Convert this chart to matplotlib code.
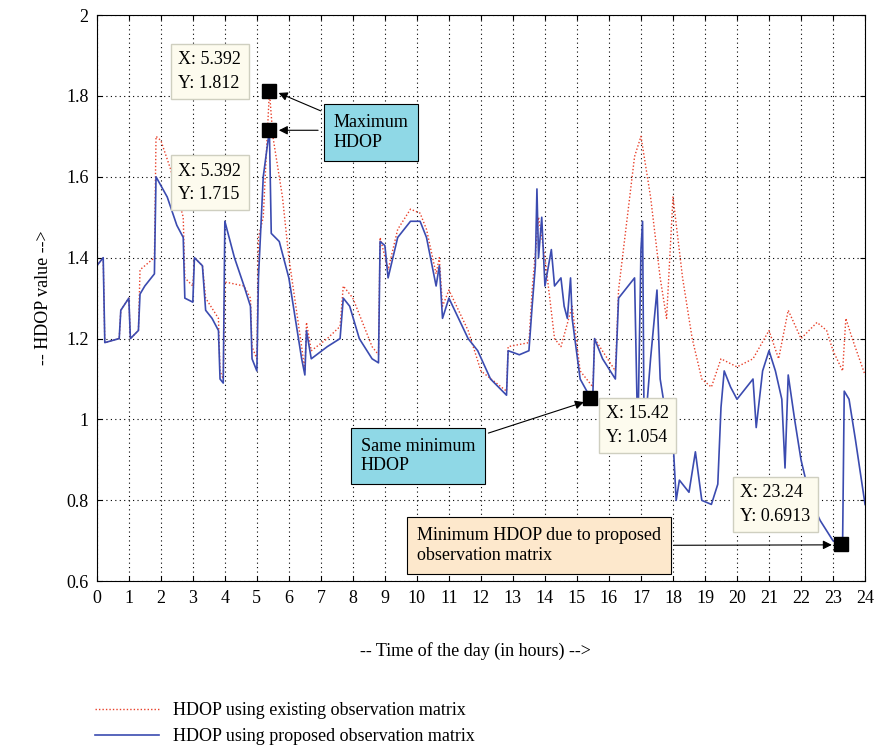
import matplotlib.pyplot as plt
from matplotlib.lines import Line2D

plt.rcParams["font.family"] = ["Liberation Serif", "DejaVu Serif"]
plt.rcParams["font.size"] = 13

# proposed observation matrix (blue)
prop_x = [0, 0.2, 0.25, 0.7, 0.75, 1.0, 1.05, 1.3, 1.35, 1.5, 1.8, 1.85, 2.2, 2.5, 2.7, 2.75, 3.0, 3.05,
          3.3, 3.4, 3.6, 3.8, 3.85, 3.95, 4.0, 4.3, 4.6, 4.8, 4.85, 5.0, 5.05, 5.2, 5.392, 5.45, 5.7, 6.0,
          6.2, 6.4, 6.5, 6.55, 6.7, 7.2, 7.6, 7.7, 7.9, 8.2, 8.6, 8.8, 8.85, 9.0, 9.1, 9.4, 9.8, 10.1,
          10.3, 10.6, 10.7, 10.8, 11.0, 11.3, 11.6, 11.9, 12.3, 12.8, 12.85, 13.2, 13.5, 13.6, 13.7, 13.75,
          13.8, 13.9, 14.0, 14.2, 14.3, 14.5, 14.6, 14.7, 14.8, 14.85, 15.1, 15.42, 15.5, 15.55, 15.8, 16.2,
          16.3, 16.8, 16.9, 17.0, 17.05, 17.1, 17.3, 17.5, 17.6, 17.8, 18.0, 18.1, 18.2, 18.5, 18.7, 18.9,
          19.2, 19.4, 19.5, 19.6, 19.8, 20.0, 20.2, 20.5, 20.6, 20.8, 21.0, 21.2, 21.4, 21.5, 21.6, 21.8,
          22.0, 22.3, 22.6, 23.0, 23.24, 23.3, 23.35, 23.5, 23.7, 24.0]
prop_y = [1.38, 1.40, 1.19, 1.20, 1.27, 1.30, 1.20, 1.22, 1.31, 1.33, 1.36, 1.60, 1.55, 1.48, 1.45, 1.30, 1.29, 1.40,
          1.38, 1.27, 1.25, 1.22, 1.10, 1.09, 1.49, 1.40, 1.33, 1.28, 1.15, 1.12, 1.35, 1.60, 1.715, 1.46, 1.44, 1.35,
          1.25, 1.15, 1.11, 1.22, 1.15, 1.18, 1.20, 1.30, 1.28, 1.20, 1.15, 1.14, 1.44, 1.43, 1.35, 1.45, 1.49, 1.49,
          1.45, 1.33, 1.38, 1.25, 1.30, 1.25, 1.20, 1.17, 1.10, 1.06, 1.17, 1.16, 1.17, 1.28, 1.38, 1.57,
          1.40, 1.50, 1.33, 1.42, 1.33, 1.35, 1.28, 1.25, 1.35, 1.25, 1.10, 1.054, 1.07, 1.20, 1.15, 1.10,
          1.30, 1.35, 0.95, 1.42, 1.49, 0.95, 1.15, 1.32, 1.10, 1.00, 0.95, 0.80, 0.85, 0.82, 0.92, 0.80,
          0.79, 0.84, 1.03, 1.12, 1.08, 1.05, 1.07, 1.10, 0.98, 1.12, 1.17, 1.12, 1.05, 0.88, 1.11, 1.00,
          0.90, 0.80, 0.75, 0.70, 0.6913, 0.70, 1.07, 1.05, 0.95, 0.79]

# existing observation matrix (red)
exist_x = [0, 0.2, 0.25, 0.7, 0.75, 1.0, 1.05, 1.3, 1.35, 1.5, 1.8, 1.85, 2.0, 2.3, 2.7, 2.75, 3.0, 3.05,
           3.3, 3.4, 3.8, 3.85, 3.95, 4.0, 4.6, 4.8, 4.85, 5.0, 5.05, 5.2, 5.392, 5.5, 5.8, 6.0, 6.4, 6.5,
           6.55, 6.7, 7.2, 7.6, 7.7, 8.0, 8.6, 8.8, 8.85, 9.1, 9.4, 9.8, 10.1, 10.3, 10.6, 10.7, 10.8, 11.0,
           11.6, 12.0, 12.8, 12.85, 13.5, 13.6, 13.8, 14.0, 14.3, 14.5, 14.85, 15.1, 15.5, 15.55, 16.2, 16.3,
           16.8, 17.0, 17.3, 17.6, 17.8, 18.0, 18.3, 18.6, 18.9, 19.2, 19.5, 20.0, 20.5, 21.0, 21.3, 21.6,
           22.0, 22.5, 22.8, 23.0, 23.3, 23.4, 23.6, 24.0]
exist_y = [1.38, 1.40, 1.19, 1.20, 1.27, 1.30, 1.20, 1.22, 1.37, 1.38, 1.40, 1.70, 1.69, 1.62, 1.50, 1.35, 1.33, 1.40,
           1.38, 1.30, 1.25, 1.12, 1.10, 1.34, 1.33, 1.30, 1.18, 1.15, 1.45, 1.50, 1.812, 1.70, 1.55, 1.40, 1.18, 1.12,
           1.24, 1.17, 1.20, 1.23, 1.33, 1.30, 1.18, 1.16, 1.45, 1.37, 1.47, 1.52, 1.51, 1.47, 1.36, 1.40, 1.28, 1.32,
           1.22, 1.12, 1.07, 1.18, 1.19, 1.32, 1.50, 1.40, 1.20, 1.18, 1.28, 1.12, 1.08, 1.20, 1.12, 1.32,
           1.65, 1.70, 1.55, 1.35, 1.25, 1.55, 1.35, 1.20, 1.10, 1.08, 1.15, 1.13, 1.15, 1.22, 1.15, 1.27,
           1.20, 1.24, 1.22, 1.17, 1.12, 1.25, 1.20, 1.11]

marks = [(5.392, 1.812), (5.392, 1.715), (15.42, 1.054), (23.24, 0.6913)]

fig = plt.figure(figsize=(8.8, 7.5), dpi=100)
ax = fig.add_axes([0.11, 0.225, 0.873, 0.755])

ax.plot(exist_x, exist_y, color="#e8402a", linestyle=(0, (1, 1.5)), linewidth=1.0)
ax.plot(prop_x, prop_y, color="#3b4bb0", linewidth=1.2)
for mx, my in marks:
    ax.plot(mx, my, marker="s", color="black", markersize=10, zorder=5)

ax.set_xlim(0, 24)
ax.set_ylim(0.6, 2)
ax.set_xticks(range(25))
ax.set_yticks([0.6, 0.8, 1, 1.2, 1.4, 1.6, 1.8, 2])
ax.set_yticklabels(["0.6", "0.8", "1", "1.2", "1.4", "1.6", "1.8", "2"])
ax.tick_params(direction="in", top=True, right=True, pad=6)
ax.grid(True, linestyle=(0, (1, 3)), color="black", linewidth=0.8)
ax.set_ylabel("-- HDOP value -->", labelpad=10)
fig.text(0.54, 0.125, "-- Time of the day (in hours) -->", ha="center", fontsize=13)

ybox = dict(boxstyle="square,pad=0.4", fc="#fdfbee", ec="#cfcfc0")
ax.text(2.55, 1.86, "X: 5.392\nY: 1.812", bbox=ybox, va="center", linespacing=1.5)
ax.text(2.55, 1.585, "X: 5.392\nY: 1.715", bbox=ybox, va="center", linespacing=1.5)
ax.text(15.9, 0.985, "X: 15.42\nY: 1.054", bbox=ybox, va="center", linespacing=1.5)
ax.text(20.1, 0.79, "X: 23.24\nY: 0.6913", bbox=ybox, va="center", linespacing=1.5)

cbox = dict(boxstyle="square,pad=0.55", fc="#8fd8e6", ec="black", lw=0.8)
arr = dict(arrowstyle="-|>", color="black", lw=0.8)
ax.annotate("Maximum\nHDOP", xy=(5.6, 1.81), xytext=(7.4, 1.71), bbox=cbox, va="center",
            arrowprops=arr)
ax.annotate("", xy=(5.6, 1.715), xytext=(7.0, 1.715), arrowprops=arr)
ax.annotate("Same minimum\nHDOP", xy=(15.3, 1.045), xytext=(8.25, 0.91), bbox=cbox, va="center",
            arrowprops=arr)
obox = dict(boxstyle="square,pad=0.55", fc="#fde8cc", ec="black", lw=0.8)
ax.annotate("Minimum HDOP due to proposed\nobservation matrix", xy=(23.05, 0.69), xytext=(10.0, 0.688),
            bbox=obox, va="center", arrowprops=arr)

handles = [Line2D([0], [0], color="#e8402a", linestyle=(0, (1, 1.5)), lw=1.0),
           Line2D([0], [0], color="#3b4bb0", lw=1.2)]
fig.legend(handles, ["HDOP using existing observation matrix", "HDOP using proposed observation matrix"],
           loc="lower left", bbox_to_anchor=(0.09, -0.015), frameon=False, fontsize=13,
           handlelength=3.5, labelspacing=0.5)

fig.savefig("out.png")
